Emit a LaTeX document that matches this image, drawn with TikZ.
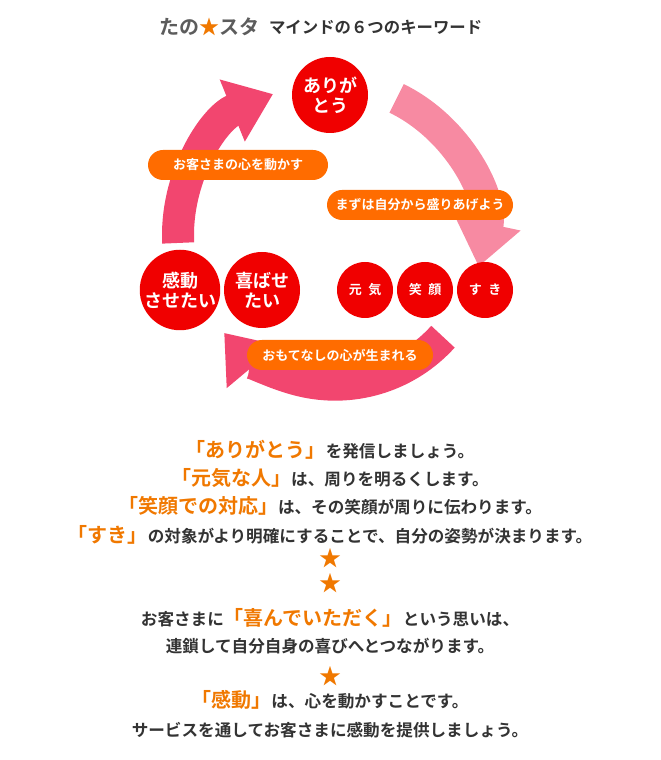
\documentclass[tikz,border=0pt]{standalone}
\usepackage{fontspec}
\setmainfont{Noto Sans CJK JP}
\newfontfamily\jpbold{Noto Sans CJK JP Bold}
\usetikzlibrary{arrows.meta}
\definecolor{ringPink}{HTML}{F2466F}
\definecolor{ringLight}{HTML}{F78AA2}
\definecolor{pillOrange}{HTML}{FF6C00}
\definecolor{ballRed}{HTML}{F00000}
\definecolor{textGray}{HTML}{333333}
\definecolor{keyOrange}{HTML}{F07800}
\tikzset{
  ball/.style={circle, fill=ballRed, text=white, font=\jpbold\fontsize{9}{10}\selectfont, align=center, inner sep=0pt},
  pill/.style={rounded corners=7.5pt, fill=pillOrange, text=white, font=\jpbold\fontsize{6.5}{7}\selectfont, minimum height=15pt, inner xsep=4pt},
  ring/.style={line width=16pt, ringPink, -{Triangle[width=32pt,length=22pt]}},
  line/.style={font=\jpbold\fontsize{8.3}{9}\selectfont, text=textGray},
}
\newcommand{\key}[1]{{\color{keyOrange}\fontsize{10}{11}\selectfont #1}}
\begin{document}
\begin{tikzpicture}[x=0.5pt, y=0.5pt]
	\useasboundingbox (0,0) rectangle (660,760);

	% title
	\node [font=\jpbold\fontsize{10}{11}\selectfont, text=textGray!80, anchor=west] (brand) at (152,733) {たの{\color{keyOrange}★}スタ};
	\node [line, font=\jpbold\fontsize{8.2}{9}\selectfont, anchor=west] (title) at (262,733) {マインドの６つのキーワード};

	% ring arrows
	\draw [ring, ringLight] (330,525) ++(64:152) arc (64:-12:152);
	\draw [ring] (330,525) ++(-42:152) arc (-42:-140:145);
	\draw [ring] (330,525) ++(183:152) arc (183:112:152);

	% keyword balls
	\node [ball, minimum size=38pt] (arigatou) at (330,665) {ありが\\とう};
	\node [ball, minimum size=38pt] (kandou) at (180,470) {感動\\させたい};
	\node [ball, minimum size=38pt] (yorokobase) at (262,470) {喜ばせ\\たい};
	\node [ball, minimum size=28pt, font=\jpbold\fontsize{6.5}{7}\selectfont] (genki) at (365,470) {元\enspace 気};
	\node [ball, minimum size=28pt, font=\jpbold\fontsize{6.5}{7}\selectfont] (egao) at (425,470) {笑\enspace 顔};
	\node [ball, minimum size=28pt, font=\jpbold\fontsize{6.5}{7}\selectfont] (suki) at (485,470) {す\enspace き};

	% pills
	\node [pill, minimum width=90pt] (okyaku) at (238,595) {お客さまの心を動かす};
	\node [pill, minimum width=93pt] (mazu) at (420,555) {まずは自分から盛りあげよう};
	\node [pill, minimum width=93pt] (omotenashi) at (340,405) {おもてなしの心が生まれる};

	% text lines
	\node [line] (l1) at (330,310) {\key{「ありがとう」}を発信しましょう。};
	\node [line] (l2) at (330,282) {\key{「元気な人」}は、周りを明るくします。};
	\node [line] (l3) at (330,254) {\key{「笑顔での対応」}は、その笑顔が周りに伝わります。};
	\node [line] (l4) at (330,225) {\key{「すき」}の対象がより明確にすることで、自分の姿勢が決まります。};
	\node [keyOrange, font=\fontsize{11}{12}\selectfont] (s1) at (330,202) {★};
	\node [keyOrange, font=\fontsize{11}{12}\selectfont] (s2) at (330,177) {★};
	\node [line] (l5) at (330,142) {お客さまに\key{「喜んでいただく」}という思いは、};
	\node [line] (l6) at (330,114) {連鎖して自分自身の喜びへとつながります。};
	\node [keyOrange, font=\fontsize{11}{12}\selectfont] (s3) at (330,84) {★};
	\node [line] (l7) at (330,60) {\key{「感動」}は、心を動かすことです。};
	\node [line] (l8) at (330,30) {サービスを通してお客さまに感動を提供しましょう。};
\end{tikzpicture}
\end{document}
